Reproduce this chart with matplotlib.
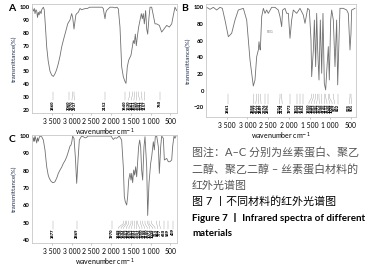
import matplotlib
matplotlib.use('Agg')
import matplotlib.pyplot as plt
from matplotlib.ticker import FuncFormatter

plt.rcParams['font.family'] = ['Lato', 'Noto Sans CJK SC', 'DejaVu Sans']

# ---- spectrum A: silk fibroin ----
wn_a = [4000, 3966, 3940, 3924, 3900, 3881, 3860, 3840, 3820, 3797, 3770, 3755, 3735, 3713,
        3690, 3671, 3650, 3628, 3590, 3544, 3500, 3460, 3420, 3380, 3334, 3290, 3249, 3200,
        3165, 3130, 3097, 3060, 3038, 3015, 2996, 2970, 2937, 2912, 2890, 2869, 2830, 2785,
        2740, 2701, 2650, 2600, 2540, 2489, 2400, 2300, 2230, 2195, 2170, 2152, 2130, 2110,
        2026, 1950, 1900, 1850, 1815, 1773, 1730, 1689, 1646, 1621, 1588, 1553, 1494, 1461,
        1436, 1411, 1385, 1360, 1335, 1301, 1267, 1233, 1208, 1183, 1157, 1124, 1097, 1072,
        1039, 1013, 971, 938, 887, 844, 777, 718, 659, 591, 525, 464, 424, 381, 338]
tr_a = [100, 97, 99, 95, 98, 97, 92, 96, 94, 97, 95, 98, 99, 100,
        98, 90, 80, 69, 58, 50, 47, 46, 48, 51, 56, 62, 69, 75,
        79, 83, 87, 89, 90, 93, 95, 92, 83, 89, 94, 95, 96, 99,
        98, 98.5, 99, 99, 100, 100, 100, 100, 100, 99, 94, 91, 96, 97.5,
        100, 100, 99.5, 100, 98.7, 84.5, 53.5, 45.8, 42, 40.6, 53.5, 58.7, 62.6, 69,
        74, 71.6, 79, 70, 76.8, 84.5, 89.7, 95, 91, 95, 87, 97.4, 83.2, 79,
        92, 100, 100, 95, 87, 87, 85.8, 80.6, 83, 85.8, 84.5, 87, 93.5, 100, 97.4]
peaks_a = [3460, 3060, 2970, 2937, 2152, 1640, 1530, 1461, 1411, 1360, 1301, 1233, 1157, 760]

# ---- spectrum B: PEG ----
wn_b = [4007, 3984, 3903, 3823, 3743, 3662, 3606, 3542, 3461, 3381, 3300, 3220, 3099, 3018,
        2938, 2858, 2818, 2777, 2737, 2721, 2700, 2689, 2656, 2616, 2576, 2536, 2496, 2415,
        2335, 2255, 2214, 2174, 2150, 2094, 2053, 2013, 1973, 1932, 1893, 1812, 1732, 1652,
        1611, 1546, 1506, 1466, 1450, 1409, 1385, 1353, 1329, 1305, 1273, 1241, 1208, 1177,
        1145, 1112, 1080, 1048, 1024, 991, 967, 927, 887, 847, 822, 791, 767, 687, 606,
        566, 525, 501, 485, 405]
tr_b = [100, 100, 97.6, 100, 96.8, 100, 98.8, 84.8, 64.8, 68.8, 84.8, 96.8, 98.8, 84.8,
        36.8, 5.6, 12.8, 40.8, 48.8, 58.8, 50, 48.8, 88.8, 98.8, 92.8, 96.8, 92.8, 100,
        100, 96.8, 88.8, 76.8, 96.8, 98.8, 92.8, 92.8, 62.9, 85, 96.8, 92.8, 98.8, 90.8,
        80.8, 98.8, 96.8, 60.8, 16.9, 48.9, 84.8, 28.9, 92.8, 48.9, 12.9, 84.8, 20.9, 92.8,
        8.9, 0.9, 28.9, 52.9, 12.9, 84.8, 96.8, 84.8, 28.9, 84.8, 7, 60, 98.8, 98.8, 96.8,
        92.8, 48.9, 68.8, 96.8, 98.8]
peaks_b = [3461, 2858, 2777, 2737, 2689, 2576, 2496, 2214, 2174, 1973, 1812, 1732, 1652,
           1450, 1409, 1353, 1305, 1273, 1208, 1145, 1112, 1048, 1024, 927, 822, 525, 501]

# ---- spectrum C: PEG - silk fibroin ----
wn_c = [4008, 3980, 3966, 3950, 3935, 3924, 3900, 3881, 3860, 3840, 3820, 3797, 3755, 3713,
        3671, 3628, 3590, 3561, 3520, 3477, 3440, 3418, 3370, 3334, 3291, 3250, 3207, 3160,
        3122, 3080, 3038, 3013, 2990, 2970, 2950, 2937, 2903, 2869, 2850, 2836, 2802, 2770,
        2743, 2701, 2660, 2633, 2580, 2532, 2300, 2100, 2000, 1970, 1942, 1900, 1857, 1790,
        1731, 1689, 1663, 1638, 1604, 1579, 1553, 1520, 1494, 1477, 1452, 1427, 1401, 1376,
        1351, 1326, 1301, 1275, 1250, 1225, 1199, 1166, 1140, 1097, 1072, 1039, 997, 971,
        929, 904, 879, 844, 802, 777, 743, 718, 676, 650, 591, 549, 507, 464, 439, 406, 381, 355]
tr_c = [100, 99, 97, 99, 97, 100, 98, 96, 99, 97, 99, 100, 99.6, 97.7,
        91.9, 82.3, 77.5, 75.6, 74, 73.1, 73.3, 73.7, 76, 78.5, 80.4, 82, 84.2, 86,
        88, 91, 94.2, 94.8, 97, 100, 99, 98.7, 88, 72.7, 80, 86, 97.7, 99,
        100, 99.6, 99, 99, 100, 100, 100, 100, 100, 99, 98, 99, 98.7, 100,
        97.7, 82.3, 65, 62.1, 60.2, 65, 74.6, 78.5, 74.6, 78.5, 73.1, 80.4, 77.5, 82.3,
        76.5, 85.2, 93.8, 97.7, 93.8, 80.4, 74.6, 93.8, 99.6, 82.3, 54.2, 72.7, 84.2, 88,
        96.7, 92, 99.6, 100, 93.8, 78.5, 93.8, 100, 98.7, 86.2, 87.1, 85.2, 85.2, 86.2, 94.2, 100, 98.7, 100]
peaks_c = [3477, 2869, 1970, 1689, 1638, 1604, 1553, 1494, 1452, 1401, 1351,
           1326, 1250, 1199, 1140, 1072, 1039, 971, 844, 777, 650, 549, 439]


def thousands(v, pos):
    return f"{int(v):,}".replace(",", " ")


def spread(peaks, gap):
    pos = sorted(peaks, reverse=True)
    for _ in range(200):
        for i in range(len(pos) - 1):
            if pos[i] - pos[i + 1] < gap:
                mid = (pos[i] + pos[i + 1]) / 2
                pos[i] = mid + gap / 2
                pos[i + 1] = mid - gap / 2
    return sorted(peaks, reverse=True), pos


def peak_labels(ax, peaks, levels, gap):
    top, knee, low, txt = levels
    pk, lx = spread(peaks, gap)
    for p, x in zip(pk, lx):
        ax.plot([p, p, x, x], [top, knee, low, txt], color='#9a9a9a', lw=0.3)
        ax.text(x, txt, str(p), rotation=90, fontsize=2.9, ha='center', va='top',
                color='black', fontweight='heavy')


def panel(rect, wn, tr, xlim, ylim, yticks, peaks, levels, gap, letter):
    ax = fig.add_axes(rect)
    ax.plot(wn, tr, color='#707070', lw=0.6)
    ax.set_xlim(*xlim)
    ax.set_ylim(*ylim)
    ax.set_xticks([3500, 3000, 2500, 2000, 1500, 1000, 500])
    ax.xaxis.set_major_formatter(FuncFormatter(thousands))
    ax.set_yticks(yticks)
    ax.tick_params(axis='x', labelsize=4.9, length=1.5, width=0.4, pad=2, color='#999999')
    ax.tick_params(axis='y', labelsize=4.2, length=0, pad=1.5)
    for lab in ax.get_yticklabels():
        lab.set_fontweight('bold')
    for s in ax.spines.values():
        s.set_color('#c8c8c8')
        s.set_linewidth(0.6)
    ax.set_xlabel('wavenumber cm$^{-1}$', fontsize=5, labelpad=1.5)
    ax.set_ylabel('transmittance(%)', fontsize=4.5, color='#1f2f4f', labelpad=2)
    peak_labels(ax, peaks, levels, gap)
    ax.text(-0.14, 1.0, letter, transform=ax.transAxes, fontsize=7.5, fontweight='bold',
            ha='center', va='top')
    return ax


fig = plt.figure(figsize=(3.82, 2.67), dpi=100)

panel([32 / 382, 1 - 113 / 267, 145 / 382, 109 / 267], wn_a, tr_a, (4000, 330), (17.5, 102.5),
      range(20, 101, 10), peaks_a, (34, 31, 28.5, 27.5), 68, 'A')
axb = panel([206 / 382, 1 - 117 / 267, 150 / 382, 113 / 267], wn_b, tr_b, (4000, 380), (-31.5, 104),
            range(-20, 101, 20), peaks_b, (-4, -8, -14, -15.5), 62, 'B')
axb.text(2460, 70, 'PEG', fontsize=2.5, color='#777777', ha='center', va='center')
panel([32 / 382, 1 - 242.7 / 267, 145 / 382, 107.7 / 267], wn_c, tr_c, (4000, 330), (38.5, 100.6),
      range(40, 101, 10), peaks_c, (51, 49.5, 47.3, 46.6), 66, 'C')

# caption
cap_x = 192 / 382
fig.text(cap_x, 1 - 153 / 267, '图注：A–C 分别为丝素蛋白、聚乙', fontsize=7.9, color='#555555', va='center')
fig.text(cap_x, 1 - 170 / 267, '二醇、聚乙二醇 – 丝素蛋白材料的', fontsize=7.9, color='#555555', va='center')
fig.text(cap_x, 1 - 185 / 267, '红外光谱图', fontsize=7.9, color='#555555', va='center')
fig.text(cap_x, 1 - 201 / 267, '图 7 丨不同材料的红外光谱图', fontsize=7.9, color='black', va='center')
fig.text(cap_x, 1 - 218 / 267, 'Figure 7 丨 Infrared spectra of different', fontsize=7.0,
         fontweight='bold', color='black', va='center')
fig.text(cap_x, 1 - 234 / 267, 'materials', fontsize=7.0, fontweight='bold', color='black', va='center')

fig.savefig('out.png', dpi=100)
